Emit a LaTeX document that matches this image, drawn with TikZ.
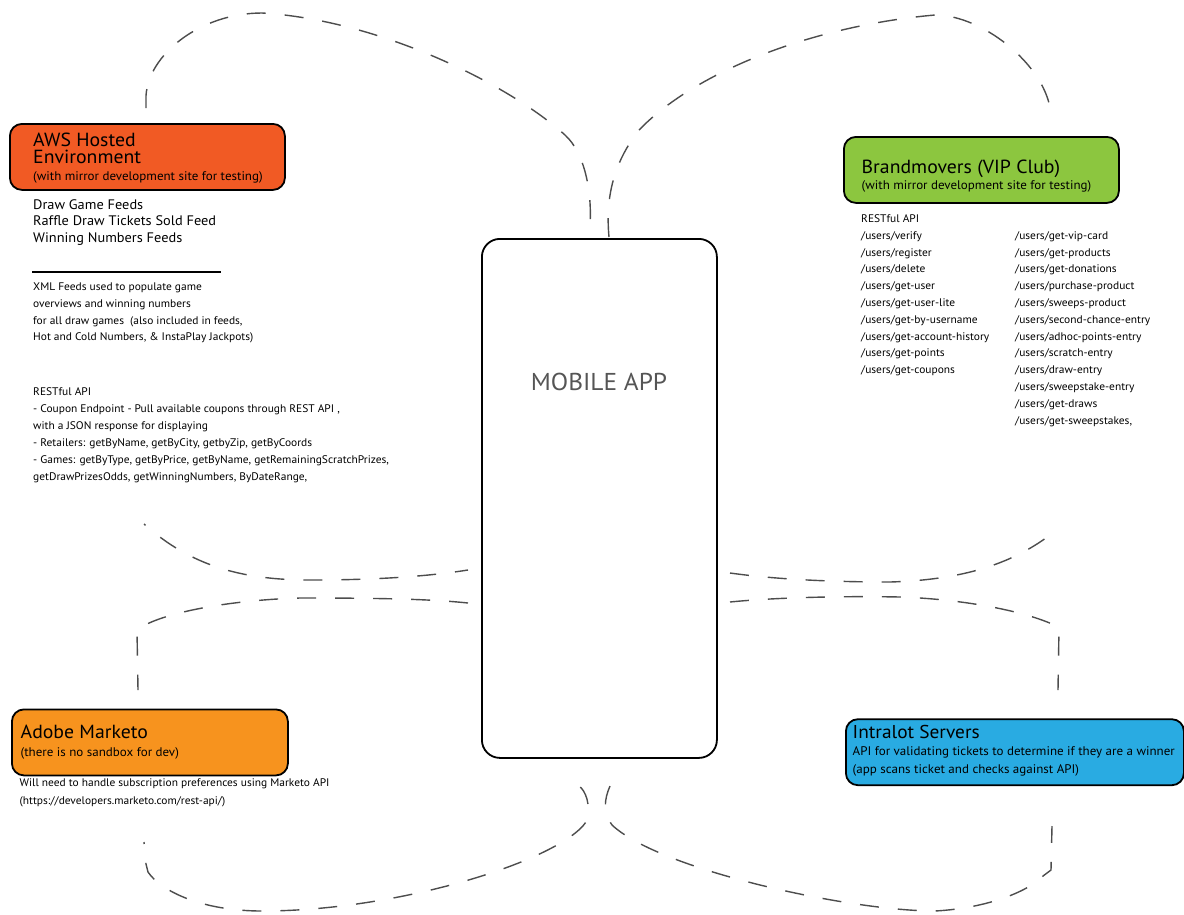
\documentclass[tikz,border=0pt]{standalone}
\usepackage{fontspec}
\setmainfont{PT Sans}[FakeStretch=1.04]
\definecolor{awsc}{HTML}{F15A24}
\definecolor{brandc}{HTML}{8CC63F}
\definecolor{adobec}{HTML}{F7931E}
\definecolor{intrac}{HTML}{29ABE2}
\definecolor{dashc}{HTML}{4D4D4D}
\definecolor{appc}{HTML}{555555}
\begin{document}
\begin{tikzpicture}[x=1pt,y=-1pt,
  box/.style={draw=black, line width=1.8pt, rounded corners=12pt, anchor=north west, inner sep=0pt},
  txt/.style={anchor=base west, inner sep=0pt, text=black},
  title/.style={txt, font=\fontsize{19}{19}\selectfont},
  sub/.style={txt, font=\fontsize{12.5}{12.5}\selectfont},
  feed/.style={txt, font=\fontsize{13.8}{13.8}\selectfont},
  small/.style={txt, font=\fontsize{11}{11}\selectfont},
  link/.style={draw=dashc, line width=1.4pt, dash pattern=on 19pt off 19pt}]
\useasboundingbox (0,0) rectangle (1184,914);

% ---------- AWS ----------
\node[box, fill=awsc, minimum width=275pt, minimum height=66pt] (aws) at (9,123) {};
\node[title, align=left, font=\fontsize{19}{16.5}\selectfont] (awst) at (33,163) {AWS Hosted\\Environment};
\node[sub] (awss) at (33,180.5) {(with mirror development site for testing)};
\foreach \t [count=\i from 0] in {{Draw Game Feeds},{Raffle Draw Tickets Sold Feed},{Winning Numbers Feeds}}
  \node[feed] (awsf\i) at (33,209+16.6*\i) {\t};
\draw[line width=1.5pt] (32,272) -- (221,272);
\foreach \t [count=\i from 0] in {{XML Feeds used to populate game},{overviews and winning numbers},{for all draw games\ \ (also included in feeds,},{Hot and Cold Numbers, \& InstaPlay Jackpots)}}
  \node[small] (awsx\i) at (33,290.7+16.7*\i) {\t};
\foreach \t [count=\i from 0] in {{RESTful API},{- Coupon Endpoint - Pull available coupons through REST API ,},{with a JSON response for displaying},{- Retailers: getByName, getByCity, getbyZip, getByCoords},{- Games: getByType, getByPrice, getByName, getRemainingScratchPrizes,},{getDrawPrizesOdds, getWinningNumbers, ByDateRange,}}
  \node[small] (awsr\i) at (33,395+17.05*\i) {\t};

% ---------- Brandmovers ----------
\node[box, fill=brandc, minimum width=275pt, minimum height=66pt] (brand) at (843,136) {};
\node[title] (brandt) at (861.5,173.3) {Brandmovers (VIP Club)};
\node[sub] (brands) at (861.5,189) {(with mirror development site for testing)};
\node[small] (brandr) at (861,222.7) {RESTful API};
\foreach \t [count=\i from 0] in {verify,register,delete,get-user,get-user-lite,get-by-username,get-account-history,get-points,get-coupons}
  \node[small] (brandl\i) at (861,239.3+16.8*\i) {/users/\t};
\foreach \t [count=\i from 0] in {get-vip-card,get-products,get-donations,purchase-product,sweeps-product,second-chance-entry,adhoc-points-entry,scratch-entry,draw-entry,sweepstake-entry,get-draws,{get-sweepstakes,}}
  \node[small] (brandm\i) at (1015,239.3+16.8*\i) {/users/\t};

% ---------- Adobe ----------
\node[box, fill=adobec, minimum width=276pt, minimum height=66pt] (adobe) at (11,708.5) {};
\node[title] (adobet) at (20.5,738.3) {Adobe Marketo};
\node[sub] (adobes) at (20.5,756) {(there is no sandbox for dev)};
\node[small] (adobe1) at (19.5,786.7) {Will need to handle subscription preferences using Marketo API};
\node[small] (adobe2) at (19.5,804) {(https://developers.marketo.com/rest-api/)};

% ---------- Intralot ----------
\node[box, fill=intrac, minimum width=338pt, minimum height=66pt] (intra) at (845,718.3) {};
\node[title, font=\fontsize{18.6}{18.6}\selectfont] (intrat) at (852.5,738.3) {Intralot Servers};
\node[sub] (intra1) at (852.5,755.7) {API for validating tickets to determine if they are a winner};
\node[sub] (intra2) at (852.5,773.3) {(app scans ticket and checks against API)};

% ---------- Mobile app ----------
\node[draw=black, line width=1.8pt, rounded corners=18pt, anchor=north west, inner sep=0pt,
      minimum width=235pt, minimum height=519pt] (mobile) at (481,238) {};
\node[text=appc, font=\fontsize{24.4}{24.4}\selectfont, inner sep=0pt, anchor=base] (mobilet) at (599,390) {MOBILE APP};

% ---------- connector end points ----------
\coordinate (awsTop) at (146,108);
\coordinate (mobTL) at (589,237);
\coordinate (mobTR) at (609,237);
\coordinate (brandTop) at (1051,118);
\coordinate (awsLow) at (144,524);
\coordinate (mobL1) at (468,570);
\coordinate (mobL2) at (468,603);
\coordinate (adobeTop) at (138,690);
\coordinate (mobR1) at (730,573);
\coordinate (mobR2) at (730,602);
\coordinate (brandLow) at (1050,535);
\coordinate (intraTop) at (1058,690);
\coordinate (mobBL) at (579,786);
\coordinate (mobBR) at (610,786);
\coordinate (adobeLow) at (144,842);
\coordinate (intraLow) at (1052,826);

% ---------- dashed connectors ----------
\path[link] (awsTop) -- (146,96) .. controls (148,55) and (200,13) .. (262,13)
  .. controls (380,20) and (510,85) .. (565,135)
  .. controls (585,153) and (594,195) .. (mobTL);
\path[link] (mobTR) .. controls (605,195) and (615,160) .. (640,129)
  .. controls (700,68) and (820,25) .. (935,15)
  .. controls (985,15) and (1051,70) .. (brandTop);
\path[link, dash phase=17pt] (awsLow) .. controls (190,565) and (240,580) .. (310,580)
  .. controls (380,580) and (430,576) .. (mobL1);
\path[link] (mobL2) .. controls (430,599) and (380,598) .. (300,598)
  .. controls (230,600) and (170,612) .. (145,625) -- (137,631) -- (adobeTop);
\path[link] (mobR1) .. controls (780,580) and (840,582) .. (890,582)
  .. controls (960,580) and (1010,565) .. (brandLow);
\path[link] (mobR2) .. controls (780,597) and (850,596) .. (900,597)
  .. controls (960,599) and (1020,610) .. (1052,624) -- (1059,628) -- (intraTop);
\path[link, dash phase=17pt] (adobeLow) -- (146,864) -- (148,872)
  .. controls (160,890) and (200,911) .. (262,911)
  .. controls (400,911) and (560,860) .. (586,822)
  .. controls (592,805) and (585,790) .. (mobBL);
\path[link] (mobBR) .. controls (604,800) and (603,812) .. (612,825)
  .. controls (660,870) and (850,911) .. (935,911)
  .. controls (990,908) and (1030,890) .. (1043,876) -- (1051,870) -- (intraLow);
\end{tikzpicture}
\end{document}
